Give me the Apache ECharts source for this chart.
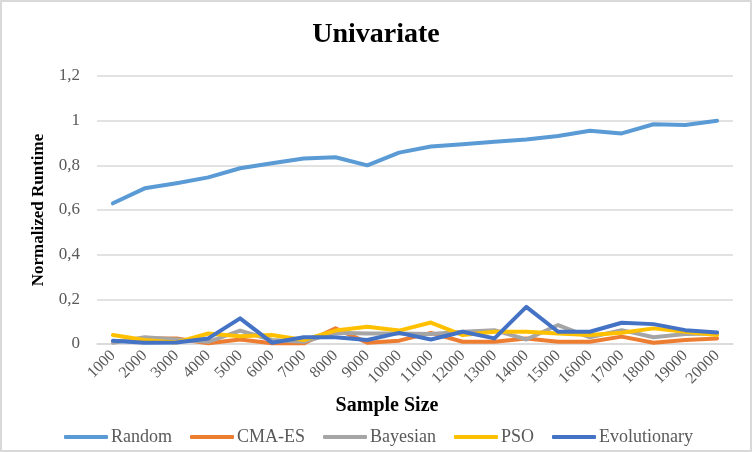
<!DOCTYPE html>
<html lang="en">
<head>
<meta charset="UTF-8">
<title>Univariate</title>
<script src="https://cdn.jsdelivr.net/npm/echarts@6/dist/echarts.min.js"></script>
<style>
  html, body { margin: 0; padding: 0; background: #fff; }
  #chart { width: 752px; height: 452px; border: 2px solid #d9d9d9; box-sizing: border-box; }
</style>
</head>
<body>
<div id="chart"></div>
<script>
// sample sizes on the x axis
var sampleSizes = ['1000', '2000', '3000', '4000', '5000', '6000', '7000', '8000', '9000', '10000',
                   '11000', '12000', '13000', '14000', '15000', '16000', '17000', '18000', '19000', '20000'];

// normalized runtime per optimizer
var randomVals = [0.63, 0.697, 0.72, 0.746, 0.787, 0.809, 0.831, 0.836, 0.80, 0.857,
                  0.884, 0.894, 0.906, 0.916, 0.931, 0.955, 0.943, 0.984, 0.981, 1.0];
var cmaesVals = [0.01, 0.025, 0.025, 0.003, 0.02, 0.003, 0.003, 0.07, 0.006, 0.015,
                 0.05, 0.01, 0.01, 0.025, 0.01, 0.01, 0.033, 0.006, 0.018, 0.025];
var bayesianVals = [0.006, 0.03, 0.02, 0.01, 0.06, 0.018, 0.01, 0.05, 0.047, 0.047,
                    0.045, 0.055, 0.062, 0.02, 0.085, 0.03, 0.062, 0.03, 0.045, 0.047];
var psoVals = [0.04, 0.018, 0.007, 0.047, 0.035, 0.04, 0.018, 0.06, 0.077, 0.06,
               0.096, 0.04, 0.055, 0.055, 0.047, 0.04, 0.05, 0.07, 0.055, 0.04];
var evoVals = [0.015, 0.006, 0.007, 0.025, 0.115, 0.006, 0.03, 0.03, 0.018, 0.05,
               0.02, 0.055, 0.025, 0.166, 0.055, 0.055, 0.095, 0.089, 0.062, 0.052];

var seriesNames = ['Random', 'CMA-ES', 'Bayesian', 'PSO', 'Evolutionary'];
var seriesColors = ['#5b9bd5', '#ed7d31', '#a5a5a5', '#ffc000', '#4472c4'];
var seriesData = [randomVals, cmaesVals, bayesianVals, psoVals, evoVals];

var serif = '"Liberation Serif", "Times New Roman", serif';

var chart = echarts.init(document.getElementById('chart'));

var series = [];
for (var i = 0; i < seriesNames.length; i++) {
    series.push({
        name: seriesNames[i],
        type: 'line',
        data: seriesData[i],
        symbol: 'none',
        lineStyle: { width: 4, color: seriesColors[i], cap: 'round', join: 'round' },
        itemStyle: { color: seriesColors[i] },
        z: 2 + i
    });
}

var option = {
    animation: false,
    title: {
        text: 'Univariate',
        left: 'center',
        top: 14,
        textStyle: { fontFamily: serif, fontSize: 28, fontWeight: 'bold', color: '#000' }
    },
    legend: {
        top: 421,
        left: 57,
        itemWidth: 44,
        itemHeight: 4,
        itemGap: 18,
        icon: 'roundRect',
        textStyle: { fontFamily: serif, fontSize: 18, color: '#595959', padding: [0, 0, 0, -2] },
        data: seriesNames
    },
    grid: { left: 95, right: 17, top: 74, bottom: 106, containLabel: false },
    xAxis: {
        type: 'category',
        data: sampleSizes,
        boundaryGap: true,
        name: 'Sample Size',
        nameLocation: 'middle',
        nameGap: 52,
        nameTextStyle: {
            fontFamily: serif, fontSize: 20, fontWeight: 'bold', color: '#000',
            padding: [0, 56, 0, 0]
        },
        axisLine: { lineStyle: { color: '#d9d9d9', width: 1.5 } },
        axisTick: { show: false },
        axisLabel: {
            interval: 0,
            rotate: 45,
            margin: 9,
            fontFamily: serif,
            fontSize: 16,
            color: '#595959'
        }
    },
    yAxis: {
        type: 'value',
        min: 0,
        max: 1.2,
        interval: 0.2,
        name: 'Normalized Runtime',
        nameLocation: 'middle',
        nameGap: 50,
        nameTextStyle: { fontFamily: serif, fontSize: 17, fontWeight: 'bold', color: '#000' },
        axisLine: { show: false },
        axisTick: { show: false },
        splitLine: { lineStyle: { color: '#d9d9d9', width: 1.5 } },
        axisLabel: {
            margin: 17,
            fontFamily: serif,
            fontSize: 17,
            color: '#595959',
            formatter: function (v) {
                return String(parseFloat(v.toFixed(1))).replace('.', ',');
            }
        }
    },
    series: series
};

chart.setOption(option);
</script>
</body>
</html>
